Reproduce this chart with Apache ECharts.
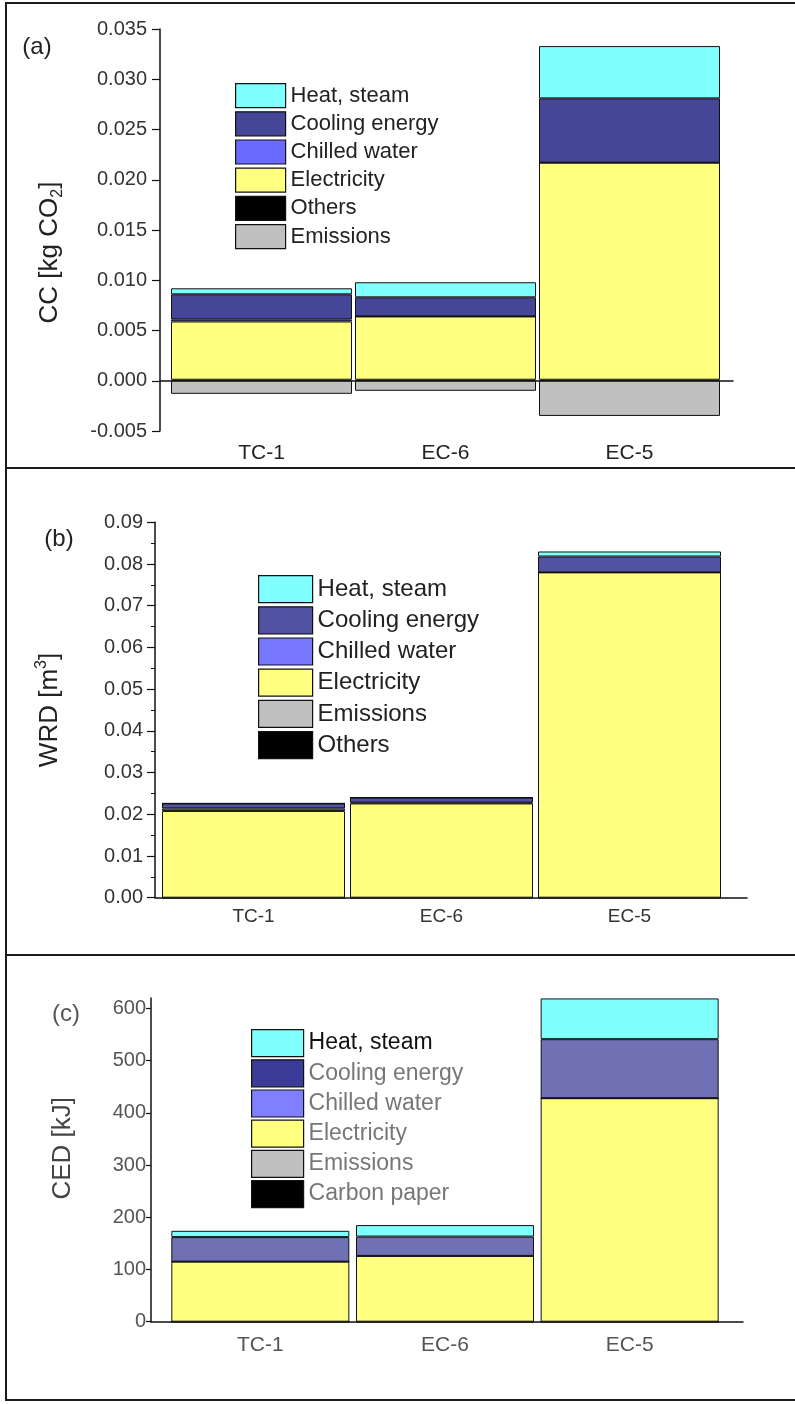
<!DOCTYPE html>
<html>
<head>
<meta charset="utf-8">
<script src="https://cdn.jsdelivr.net/npm/echarts@6/dist/echarts.min.js"></script>
<style>
body{margin:0;background:#fff;overflow:hidden;width:795px;height:1404px;position:relative;}
.panel{position:absolute;left:0;width:795px;}
.frame{position:absolute;left:5px;top:2px;width:800px;height:1395px;border:2px solid #1a1a1a;border-right:none;z-index:5;pointer-events:none;}
.sep{position:absolute;left:5px;width:800px;height:2px;background:#1a1a1a;z-index:5;}
</style>
</head>
<body>
<div id="a" class="panel" style="top:0;height:470px"></div>
<div id="b" class="panel" style="top:470px;height:486px"></div>
<div id="c" class="panel" style="top:956px;height:448px"></div>
<div class="frame"></div>
<div class="sep" style="top:467px"></div>
<div class="sep" style="top:954px"></div>
<script>
const categories=['TC-1','EC-6','EC-5'];

// (a) CC, kg CO2
const ccOthers=[0.0001,0.0001,0.0001];
const ccElectricity=[0.0058,0.0063,0.0216];
const ccChilled=[0.0002,0,0];
const ccCooling=[0.0025,0.0019,0.0064];
const ccHeat=[0.0006,0.0015,0.0052];
const ccEmissions=[-0.0013,-0.0010,-0.0035];

// (b) WRD, m3
const wrdOthers=[0,0,0];
const wrdEmissions=[0,0,0];
const wrdElectricity=[0.0208,0.0226,0.0780];
const wrdChilled=[0.0006,0.0002,0];
const wrdCooling=[0.0012,0.0012,0.0038];
const wrdHeat=[0,0,0.0012];

// (c) CED, kJ
const cedCarbonPaper=[0,0,0];
const cedEmissions=[0,0,0];
const cedElectricity=[115,126,428];
const cedChilled=[0,0,0];
const cedCooling=[47,37,113];
const cedHeat=[12,22,78];
const cedTicks=[0,100,200,300,400,500,600];

const FONT='"Liberation Sans", Arial, sans-serif';

function panelOption(p){
    const series=p.layers.map(l=>({
        name:l.name,
        type:'bar',
        stack:'total',
        xAxisIndex:0,
        yAxisIndex:0,
        barWidth:p.barWidth,
        data:l.data,
        itemStyle:{color:l.color,borderColor:'#111',borderWidth:1}
    }));
    return {
        animation:false,
        textStyle:{fontFamily:FONT},
        grid:[
            {left:p.left,right:p.right,top:p.top,bottom:p.bottom},
            {left:p.axisX,right:p.lineRight,top:p.top,bottom:p.bottom}
        ],
        legend:{
            orient:'vertical',
            left:p.legend.left,
            top:p.legend.top,
            itemWidth:p.legend.w,
            itemHeight:p.legend.h,
            itemGap:p.legend.gap,
            icon:'rect',
            padding:0,
            selectedMode:false,
            itemStyle:{borderColor:'#111',borderWidth:1.2},
            textStyle:{fontFamily:FONT,fontSize:p.legend.fontSize,color:p.legend.color,lineHeight:p.legend.h},
            data:p.legend.items
        },
        xAxis:[
            {
                type:'category',gridIndex:0,data:categories,
                axisLine:{show:false,onZero:false},
                axisTick:{show:false},
                axisLabel:{fontFamily:FONT,fontSize:p.catSize,color:p.textColor,margin:p.catMargin}
            },
            {
                type:'value',gridIndex:1,min:0,max:1,
                axisLine:{show:true,onZero:true,lineStyle:{color:'#111',width:1.5}},
                axisTick:{show:false},axisLabel:{show:false},splitLine:{show:false}
            }
        ],
        yAxis:[
            Object.assign({
                type:'value',gridIndex:0,
                min:p.min,max:p.max,interval:p.interval,
                offset:p.left-p.axisX,
                name:p.yName,
                nameLocation:'middle',
                nameRotate:90,
                nameGap:p.nameGap,
                nameTextStyle:{fontFamily:FONT,fontSize:26,color:p.nameColor,lineHeight:32,padding:p.namePad,
                    rich:{
                        sub:{fontFamily:FONT,fontSize:16,verticalAlign:'bottom',color:p.nameColor},
                        sup:{fontFamily:FONT,fontSize:16,verticalAlign:'top',color:p.nameColor}
                    }},
                axisLine:{show:true,lineStyle:{color:'#111',width:1.5}},
                axisTick:{show:true,length:p.tickLen,lineStyle:{color:'#111',width:1.2}},
                axisLabel:{fontFamily:FONT,fontSize:20,color:p.tickColor,margin:p.labelMargin,formatter:p.fmt},
                splitLine:{show:false}
            },p.yExtra||{}),
            {type:'value',gridIndex:1,min:p.min,max:p.max,show:false}
        ],
        graphic:[{
            type:'text',x:p.tag.x,y:p.tag.y,
            style:{text:p.tag.text,fontFamily:FONT,fontSize:24,fill:p.tag.color,align:'center',verticalAlign:'middle'}
        }],
        series:series
    };
}

const optA=panelOption({
    left:169.5,right:73.5,top:29,bottom:39,axisX:160,lineRight:62,barWidth:181,
    min:-0.005,max:0.035,interval:0.005,fmt:v=>v.toFixed(3),
    tickLen:8,labelMargin:13,tickColor:'#333',
    catSize:21,catMargin:12,textColor:'#222',
    yName:'CC [kg CO{sub|2}]',nameGap:94,namePad:[0,45,0,0],nameColor:'#222',
    tag:{text:'(a)',x:37,y:47,color:'#222'},
    legend:{left:235,top:83,w:50,h:24,gap:3,fontSize:22,color:'#222',
        items:['Heat, steam','Cooling energy','Chilled water','Electricity','Others','Emissions']},
    layers:[
        {name:'Others',data:ccOthers,color:'#000'},
        {name:'Electricity',data:ccElectricity,color:'#ffff80'},
        {name:'Chilled water',data:ccChilled,color:'#6a6aff'},
        {name:'Cooling energy',data:ccCooling,color:'#464699'},
        {name:'Heat, steam',data:ccHeat,color:'#80ffff'},
        {name:'Emissions',data:ccEmissions,color:'#c0c0c0'}
    ]
});

const optB=panelOption({
    left:159.5,right:71.5,top:52.3,bottom:58.3,axisX:155,lineRight:48,barWidth:183,
    min:0,max:0.09,interval:0.01,fmt:v=>v.toFixed(2),
    tickLen:8,labelMargin:12,tickColor:'#333',
    catSize:19,catMargin:10,textColor:'#333',
    yName:'WRD [m{sup|3}]',nameGap:89,namePad:0,nameColor:'#222',
    yExtra:{minorTick:{show:true,splitNumber:2,length:4,lineStyle:{color:'#111'}}},
    tag:{text:'(b)',x:59,y:69.5,color:'#222'},
    legend:{left:258,top:105,w:54,h:27,gap:3,fontSize:24,color:'#222',
        items:['Heat, steam','Cooling energy','Chilled water','Electricity','Emissions','Others']},
    layers:[
        {name:'Others',data:wrdOthers,color:'#000'},
        {name:'Emissions',data:wrdEmissions,color:'#c0c0c0'},
        {name:'Electricity',data:wrdElectricity,color:'#ffff80'},
        {name:'Chilled water',data:wrdChilled,color:'#7777ff'},
        {name:'Cooling energy',data:wrdCooling,color:'#5252a3'},
        {name:'Heat, steam',data:wrdHeat,color:'#80ffff'}
    ]
});

const optC=panelOption({
    left:168,right:73,top:41.9,bottom:82.3,axisX:151,lineRight:52,barWidth:178,
    min:0,max:620,interval:100,fmt:v=>String(v),
    tickLen:5,labelMargin:5,tickColor:'#555',
    catSize:21,catMargin:13,textColor:'#555',
    yName:'CED [kJ]',nameGap:72,namePad:[0,0,0,23],nameColor:'#444',
    yExtra:{axisTick:{show:true,length:5,customValues:cedTicks,lineStyle:{color:'#111',width:1.2}}},
    tag:{text:'(c)',x:66,y:58.5,color:'#555'},
    legend:{left:251,top:73,w:52,h:27,gap:2,fontSize:23,color:'#777',
        items:[
            {name:'Heat, steam',textStyle:{color:'#111'}},
            {name:'Cooling energy',itemStyle:{color:'#3c3c98'}},
            {name:'Chilled water',itemStyle:{color:'#8080ff'}},
            'Electricity','Emissions','Carbon paper'
        ]},
    layers:[
        {name:'Carbon paper',data:cedCarbonPaper,color:'#000'},
        {name:'Emissions',data:cedEmissions,color:'#c0c0c0'},
        {name:'Electricity',data:cedElectricity,color:'#ffff80'},
        {name:'Chilled water',data:cedChilled,color:'#8080ff'},
        {name:'Cooling energy',data:cedCooling,color:'#7070b4'},
        {name:'Heat, steam',data:cedHeat,color:'#80ffff'}
    ]
});
optC.yAxis[0].axisLabel.customValues=cedTicks;

echarts.init(document.getElementById('a')).setOption(optA);
echarts.init(document.getElementById('b')).setOption(optB);
echarts.init(document.getElementById('c')).setOption(optC);
</script>
</body>
</html>
